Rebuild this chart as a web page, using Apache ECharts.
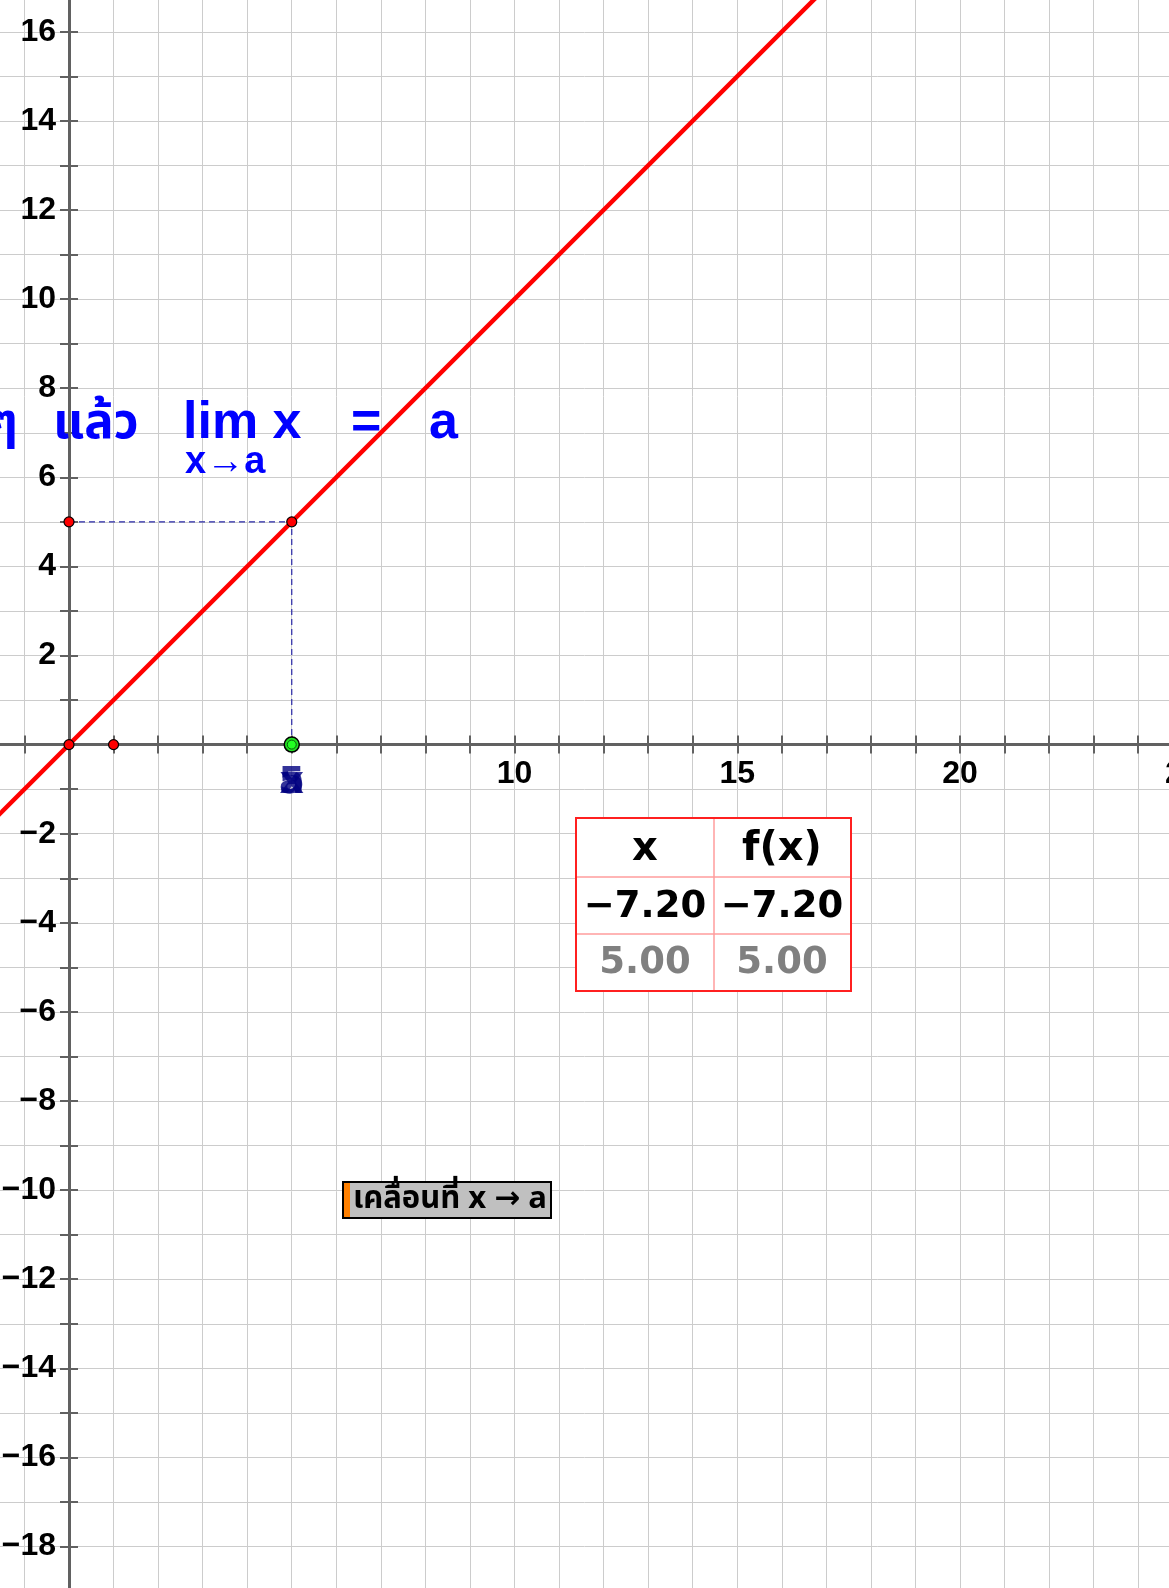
<!DOCTYPE html>
<html>
<head>
<meta charset="utf-8">
<script src="https://cdn.jsdelivr.net/npm/echarts@6/dist/echarts.min.js"></script>
<style>
  html, body { margin: 0; padding: 0; background: #fff; }
  #chart { width: 1169px; height: 1588px; }
</style>
</head>
<body>
<div id="chart"></div>
<script>
// f(x) = x, drawn across the view
const lineX = [-2, 25]
const lineY = [-2, 25]
// construction points
const redPoints = [[0, 0], [1, 0], [0, 5], [5, 5]]
const sliderPoint = [[5, 0]]
const guideX = [0, 5, 5]
const guideY = [5, 5, 0]
// labels of the points sitting at x = 5 (they overlap)
const pointLabels = ['5', 'a', 'x']
// table values
const tableHead = ['x', 'f(x)']
const tableRow1 = ['\u22127.20', '\u22127.20']
const tableRow2 = ['5.00', '5.00']

const xMin = -2, xMax = 25, yMin = -19, yMax = 17
// grid edges sit a little outside the page so that the view matches
const gridLeft = -20.1, gridRight = -13.75, gridTop = -12.75, gridBottom = -3.05
const unit = (1169 - gridLeft - gridRight) / (xMax - xMin)
const AXIS = '#616161'
const GRID = '#cccccc'
const numFont = 'Liberation Sans, Arial, sans-serif'
const wideFont = 'DejaVu Sans, Verdana, sans-serif'
const thaiFont = 'Noto Sans Thai, Tahoma, Loma, Garuda, DejaVu Sans, sans-serif'

// axis lines go through the origin, so move them in from the grid edge
const xAxisShift = -((0 - yMin) * unit)
const yAxisShift = -((0 - xMin) * unit)

function fmt (v) {
  return v < 0 ? '\u2212' + (-v) : String(v)
}

function txt (x, y, text, fill, font, align) {
  return { type: 'text', x: x, y: y, z: 100, style: { text: text, fill: fill, font: font, align: align || 'center', verticalAlign: 'middle' } }
}

const chart = echarts.init(document.getElementById('chart'), null, { renderer: 'canvas' })

const option = {
  backgroundColor: '#ffffff',
  animation: false,
  grid: {
    left: gridLeft,
    right: gridRight,
    top: gridTop,
    bottom: gridBottom,
    containLabel: false,
    outerBoundsMode: 'none'
  },
  xAxis: [{
    type: 'value',
    min: xMin,
    max: xMax,
    interval: 1,
    position: 'bottom',
    offset: xAxisShift,
    axisLine: { show: true, onZero: false, lineStyle: { color: AXIS, width: 3 } },
    axisTick: { show: true, length: 9, lineStyle: { color: AXIS, width: 2 } },
    splitLine: { show: true, lineStyle: { color: GRID, width: 1 } },
    axisLabel: {
      margin: 14,
      color: '#000',
      fontFamily: numFont,
      fontWeight: 'bold',
      fontSize: 32,
      showMinLabel: true,
      showMaxLabel: true,
      formatter: function (v) {
        return (v % 5 === 0 && v > 5) ? fmt(v) : ''
      }
    }
  }, {
    type: 'value',
    min: xMin,
    max: xMax,
    interval: 1,
    position: 'bottom',
    offset: xAxisShift,
    axisLine: { show: false, onZero: false },
    axisTick: { show: true, inside: true, length: 9, lineStyle: { color: AXIS, width: 2 } },
    splitLine: { show: false },
    axisLabel: { show: false }
  }],
  yAxis: [{
    type: 'value',
    min: yMin,
    max: yMax,
    interval: 1,
    position: 'left',
    offset: yAxisShift,
    axisLine: { show: true, onZero: false, lineStyle: { color: AXIS, width: 3 } },
    axisTick: { show: true, length: 9, lineStyle: { color: AXIS, width: 2 } },
    splitLine: { show: true, lineStyle: { color: GRID, width: 1 } },
    axisLabel: {
      margin: 13,
      color: '#000',
      fontFamily: numFont,
      fontWeight: 'bold',
      fontSize: 32,
      formatter: function (v) {
        return (v !== 0 && v % 2 === 0) ? fmt(v) : ''
      }
    }
  }, {
    type: 'value',
    min: yMin,
    max: yMax,
    interval: 1,
    position: 'left',
    offset: yAxisShift,
    axisLine: { show: false, onZero: false },
    axisTick: { show: true, inside: true, length: 9, lineStyle: { color: AXIS, width: 2 } },
    splitLine: { show: false },
    axisLabel: { show: false }
  }],
  series: [
    {
      name: 'guides',
      type: 'line',
      symbol: 'none',
      lineStyle: { color: '#2a2aa8', width: 1.2, type: [6, 4] },
      data: guideX.map((x, i) => [x, guideY[i]]),
      z: 3
    },
    {
      name: 'f',
      type: 'line',
      symbol: 'none',
      lineStyle: { color: '#ff0000', width: 4.5 },
      data: lineX.map((x, i) => [x, lineY[i]]),
      z: 4
    },
    {
      name: 'points',
      type: 'scatter',
      symbol: 'circle',
      symbolSize: 10,
      itemStyle: { color: '#ff0000', borderColor: '#000', borderWidth: 1.2, opacity: 1 },
      data: redPoints,
      z: 6
    },
    {
      name: 'a',
      type: 'scatter',
      symbol: 'circle',
      symbolSize: 15,
      itemStyle: { color: '#22e022', borderColor: '#000', borderWidth: 1.5, opacity: 1 },
      data: sliderPoint,
      z: 7
    },
    {
      name: 'a-inner',
      type: 'scatter',
      symbol: 'circle',
      symbolSize: 9,
      itemStyle: { color: '#22ff22', borderColor: '#0a5a0a', borderWidth: 1, opacity: 1 },
      data: sliderPoint,
      z: 8
    },
    {
      name: 'labels',
      type: 'scatter',
      symbolSize: 0,
      label: {
        show: true,
        position: 'bottom',
        distance: 20,
        color: '#000080',
        fontFamily: wideFont,
        fontWeight: 'bold',
        fontSize: 38,
        formatter: p => pointLabels[p.dataIndex]
      },
      data: pointLabels.map(() => sliderPoint[0]),
      z: 5
    }
  ],
  graphic: [
    // limit statement (partly cut off at the left)
    txt(18, 428, 'ๆ', '#0000ff', 'bold 49px ' + thaiFont, 'right'),
    txt(53, 428, 'แล้ว', '#0000ff', 'bold 49px ' + thaiFont, 'left'),
    txt(183, 424, 'lim x', '#0000ff', 'bold 52px ' + numFont, 'left'),
    txt(185, 463, 'x\u2192a', '#0000ff', 'bold 38px ' + numFont, 'left'),
    txt(351, 424, '=', '#0000ff', 'bold 52px ' + numFont, 'left'),
    txt(429, 424, 'a', '#0000ff', 'bold 52px ' + numFont, 'left'),
    // value table
    { type: 'rect', z: 100, shape: { x: 576, y: 818, width: 275, height: 173 }, style: { fill: '#ffffff', stroke: 'none' } },
    { type: 'line', z: 101, shape: { x1: 576, y1: 877, x2: 851, y2: 877 }, style: { stroke: '#ff9c9c', lineWidth: 1.5 } },
    { type: 'line', z: 101, shape: { x1: 576, y1: 934, x2: 851, y2: 934 }, style: { stroke: '#ff9c9c', lineWidth: 1.5 } },
    { type: 'line', z: 101, shape: { x1: 714, y1: 818, x2: 714, y2: 991 }, style: { stroke: '#ff9c9c', lineWidth: 1.5 } },
    { type: 'rect', z: 102, shape: { x: 576, y: 818, width: 275, height: 173 }, style: { fill: 'none', stroke: '#ff2020', lineWidth: 2 } },
    txt(645, 850, tableHead[0], '#000', 'bold 40px ' + wideFont),
    txt(782, 850, tableHead[1], '#000', 'bold 40px ' + wideFont),
    txt(645, 907, tableRow1[0], '#000', 'bold 37px ' + wideFont),
    txt(782, 907, tableRow1[1], '#000', 'bold 37px ' + wideFont),
    txt(645, 963, tableRow2[0], '#808080', 'bold 37px ' + wideFont),
    txt(782, 963, tableRow2[1], '#808080', 'bold 37px ' + wideFont),
    // button
    { type: 'rect', z: 100, shape: { x: 343, y: 1182, width: 208, height: 36 }, style: { fill: '#c0c0c0', stroke: '#000', lineWidth: 2 } },
    { type: 'rect', z: 101, shape: { x: 344, y: 1183, width: 6, height: 34 }, style: { fill: '#ff8000' } },
    txt(353, 1202, 'เคลื่อนที่ x \u2192 a', '#000', 'bold 31px ' + thaiFont, 'left')
  ]
}

chart.setOption(option)
</script>
</body>
</html>
